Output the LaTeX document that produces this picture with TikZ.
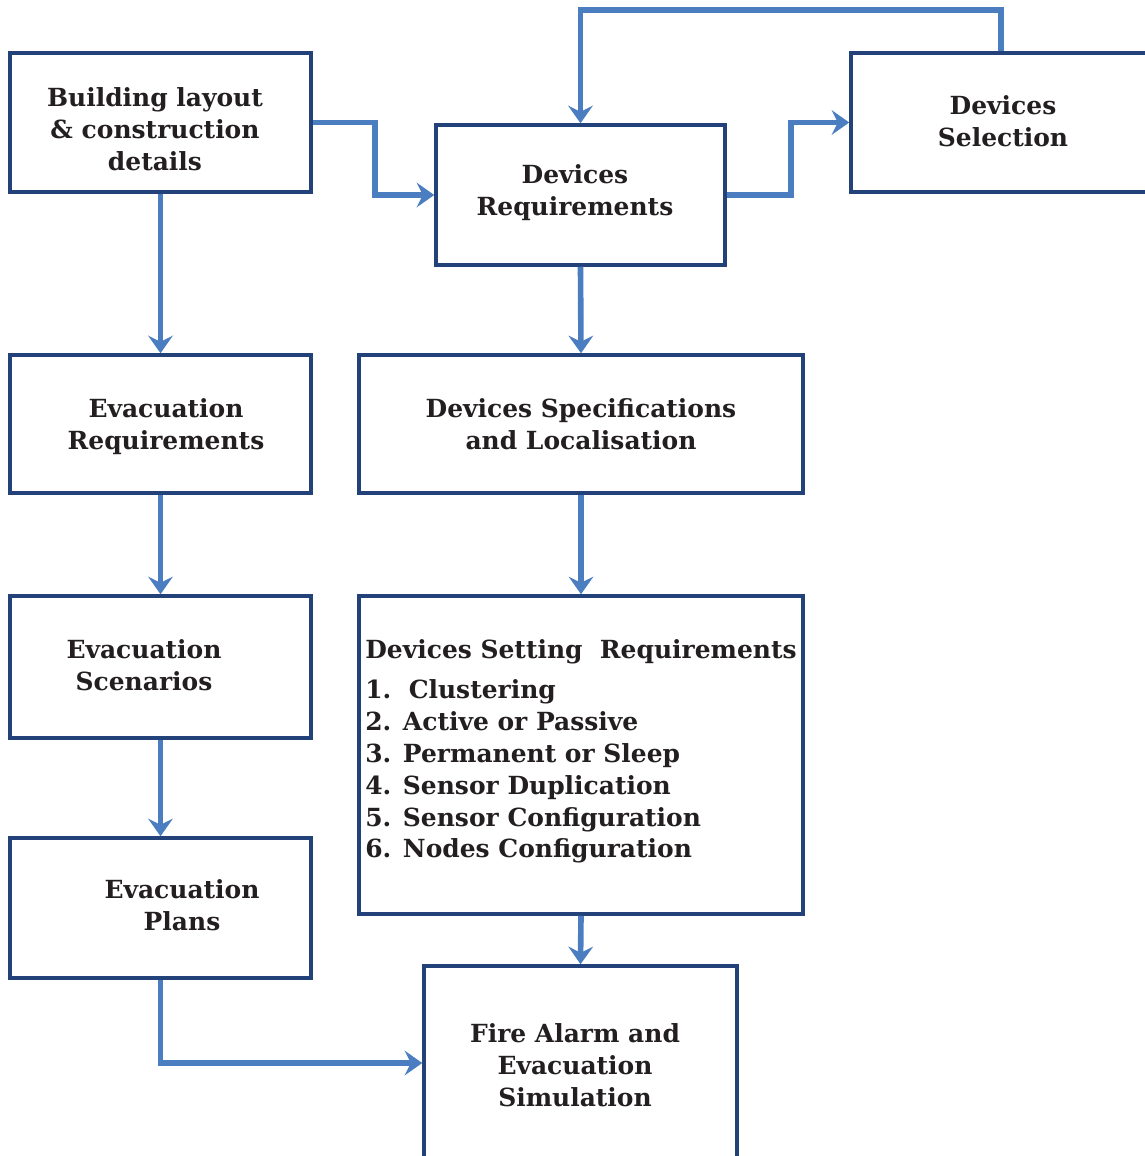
\documentclass[tikz,border=0pt]{standalone}
\usepackage{fontspec}
\setmainfont{DejaVu Serif}
\usetikzlibrary{arrows.meta,fit}
\definecolor{boxline}{HTML}{24427A}
\definecolor{flow}{HTML}{4A7EC0}
\definecolor{ink}{HTML}{231F20}
\begin{document}
\begin{tikzpicture}[x=0.02cm,y=-0.02cm,
  box/.style={draw=boxline,line width=2pt,fill=white,inner sep=0pt,fit={#1}},
  lbl/.style={text=ink,font=\bfseries\fontsize{14.2}{18.1}\selectfont,align=center,inner sep=0pt},
  conn/.style={draw=flow,line width=3.2pt,-{Stealth[length=10pt,width=14pt,inset=3.5pt]}}]
\useasboundingbox (0,0) rectangle (1145,1156);
\clip (0,0) rectangle (1145,1156);

% boxes
\node[box={(10,53) (311,192)}]   (b1) {};
\node[box={(436,125) (725,265)}] (b2) {};
\node[box={(851,53) (1170,192)}] (b3) {};
\node[box={(10,355) (311,493)}]  (b4) {};
\node[box={(359,355) (803,493)}] (b5) {};
\node[box={(10,596) (311,738)}]  (b6) {};
\node[box={(359,596) (803,914)}] (b7) {};
\node[box={(10,838) (311,978)}]  (b8) {};
\node[box={(424,966) (737,1160)}] (b9) {};

% labels
\node[lbl] (t1) at (155,129) {Building layout\\\& construction\\details};
\node[lbl] (t2) at (575,193) {Devices\\Requirements};
\node[lbl] (t3) at (1003,121) {Devices\\Selection};
\node[lbl] (t4) at (166,427) {Evacuation\\Requirements};
\node[lbl] (t5) at (581,424) {Devices Specifications\\and Localisation};
\node[lbl] (t6) at (144,665) {Evacuation\\Scenarios};
\node[lbl,align=left,anchor=north west] (t7) at (365,639)
  {Devices Setting\ \ Requirements\\[5pt]
   1.\ \ Clustering\\
   2. Active or Passive\\
   3. Permanent or Sleep\\
   4. Sensor Duplication\\
   5. Sensor Configuration\\
   6. Nodes Configuration};
\node[lbl] (t8) at (182,905) {Evacuation\\Plans};
\node[lbl] (t9) at (575,1065) {Fire Alarm and\\Evacuation\\Simulation};

% connectors
\coordinate (loop) at (1001,10);
\draw[conn] (b1.east) -- ++(62,0) |- (b2.west);
\draw[conn] (b2.east) -- ++(64,0) |- (b3.west);
\draw[conn] (b3.north -| loop) -- (loop) -| (b2.north);
\draw[conn] (b1.south) -- (b4.north);
\draw[conn] (b2.south) -- (b5.north);
\draw[conn] (b4.south) -- (b6.north);
\draw[conn] (b5.south) -- (b7.north);
\draw[conn] (b6.south) -- (b8.north);
\draw[conn] (b7.south) -- (b9.north);
\draw[conn] (b8.south) |- (b9.west);
\end{tikzpicture}
\end{document}
